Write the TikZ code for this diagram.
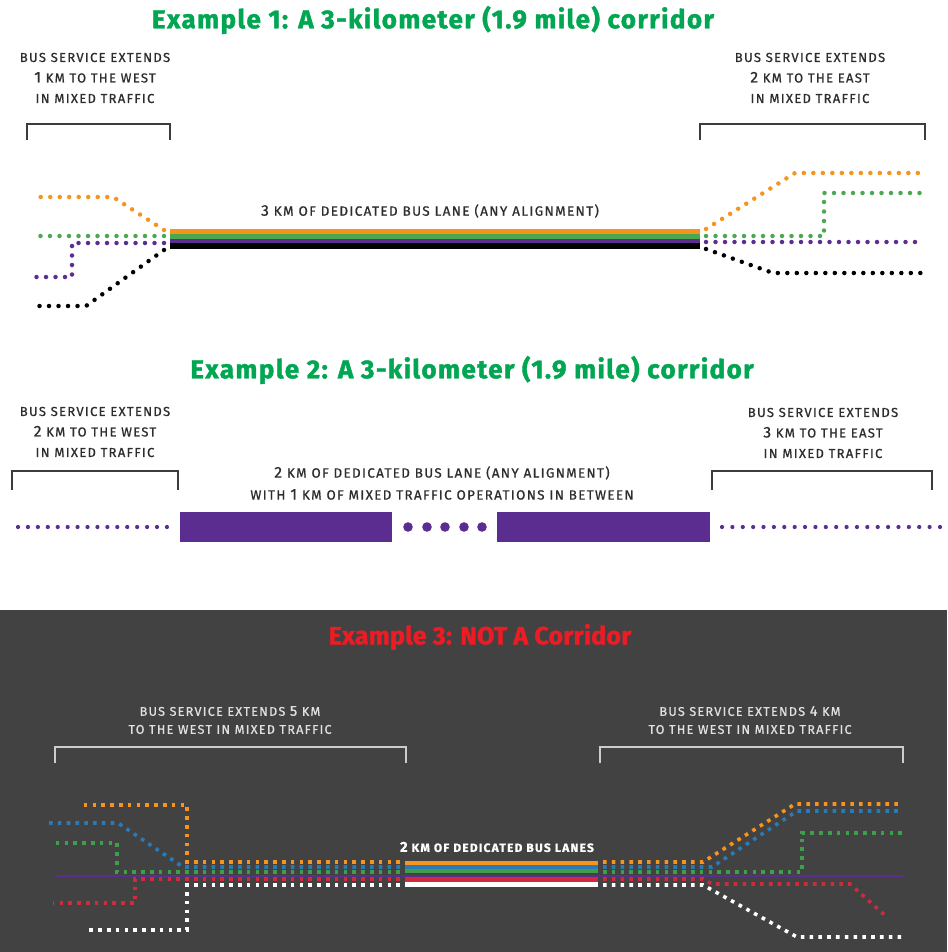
\documentclass[tikz,border=0pt]{standalone}
\usepackage{fontspec}
\setmainfont{Fira Sans}
\newfontfamily\labfont[LetterSpace=10,FakeBold=0.8]{Fira Sans}
\newfontfamily\titfont[LetterSpace=5.5,FakeBold=1.5]{Fira Sans}
\newfontfamily\condtit[FakeBold=1.2,LetterSpace=1]{Fira Sans}
\definecolor{titgreen}{RGB}{0,166,81}
\definecolor{titred}{RGB}{237,28,36}
\definecolor{labgray}{RGB}{45,45,45}
\definecolor{orng}{RGB}{247,148,29}
\definecolor{grn}{RGB}{76,168,80}
\definecolor{prp}{RGB}{92,45,145}
\definecolor{bg}{RGB}{66,66,66}
\definecolor{blu}{RGB}{42,122,184}
\definecolor{grn3}{RGB}{62,158,74}
\definecolor{red3}{RGB}{209,42,58}
\definecolor{brk}{RGB}{60,60,60}
\newcommand\dg[1]{{\fontsize{15.5}{20}\selectfont #1}}
\newcommand\dgs[1]{{\fontsize{14.5}{18}\selectfont #1}}
\tikzset{
  titleA/.style={font=\titfont\bfseries\fontsize{26}{30}\selectfont, text=titgreen, inner sep=0},
  titleB/.style={font=\condtit\bfseries\fontsize{25}{30}\selectfont, text=titred, inner sep=0},
  lab/.style={font=\labfont\fontsize{13}{20.5}\selectfont, text=labgray, align=center, inner sep=0},
  labw/.style={font=\labfont\fontsize{12.6}{18}\selectfont, text=white!88!black, align=center, inner sep=0},
  bracket/.style={draw=brk, line width=1.1pt},
  bracketw/.style={draw=white!80!black, line width=1.3pt},
  dots/.style={line width=4.5pt, line cap=round, dash pattern=on 0pt off 9.5pt},
  sq/.style={line width=3.6pt, dash pattern=on 3.6pt off 5.2pt}
}
\begin{document}
\begin{tikzpicture}[x=1pt,y=-1pt]
\useasboundingbox (0,0) rectangle (947,952);
\fill[white] (0,0) rectangle (947,610);
% ================= Example 1 =================
\node[titleA] (t1) at (433,20) {Example 1: A 3-kilometer (1.9 mile) corridor};
\node[lab] (l1) at (95,78) {BUS SERVICE EXTENDS\\ \dg{1} KM TO THE WEST\\ IN MIXED TRAFFIC};
\node[lab] (r1) at (810,78) {BUS SERVICE EXTENDS\\ \dg{2} KM TO THE EAST\\ IN MIXED TRAFFIC};
\draw[bracket] (27,140) -- (27,124) -- (170,124) -- (170,140);
\draw[bracket] (700,140) -- (700,124) -- (925,124) -- (925,140);
\node[lab, font=\labfont\fontsize{13.5}{20.5}\selectfont] (c1) at (430,211) {\dg{3} KM OF DEDICATED BUS LANE (ANY ALIGNMENT)};
\fill[orng] (170,229) rectangle (700,234);
\fill[grn] (170,234) rectangle (700,238.5);
\fill[prp] (170,238.5) rectangle (700,243);
\fill[black] (170,243) rectangle (700,249);
% left
\draw[dots, orng] (164,230) -- (113,197) -- (33,197);
\draw[dots, grn] (164,236) -- (33,236);
\draw[dots, prp] (164,243) -- (72,243) -- (72,277) -- (35,277);
\draw[dots, black] (164,250) -- (86,306) -- (35,306);
% right
\draw[dots, orng] (706,229) -- (795,173) -- (923,173);
\draw[dots, grn] (706,236) -- (824,236) -- (824,193) -- (923,193);
\draw[dots, prp] (706,242) -- (923,242);
\draw[dots, black] (706,249) -- (773,273) -- (923,273);
% ================= Example 2 =================
\node[titleA] (t2) at (472,370) {Example 2: A 3-kilometer (1.9 mile) corridor};
\node[lab] (l2) at (95,432) {BUS SERVICE EXTENDS\\ \dg{2} KM TO THE WEST\\ IN MIXED TRAFFIC};
\node[lab] (r2) at (823,433) {BUS SERVICE EXTENDS\\ \dg{3} KM TO THE EAST\\ IN MIXED TRAFFIC};
\draw[bracket] (12,490) -- (12,471) -- (178,471) -- (178,490);
\draw[bracket] (712,490) -- (712,471) -- (932,471) -- (932,490);
\node[lab, font=\labfont\fontsize{13.4}{22}\selectfont] (c2) at (442,483) {\dg{2} KM OF DEDICATED BUS LANE (ANY ALIGNMENT)\\ WITH \dg{1} KM OF MIXED TRAFFIC OPERATIONS IN BETWEEN};
\fill[prp] (180,512) rectangle (392,542);
\fill[prp] (497,512) rectangle (710,542);
\foreach \i/\xx in {1/408,2/427,3/445,4/464,5/482}
  \fill[prp] (\xx,527) circle (4.8);
\draw[dots, prp, line width=4.2pt, dash pattern=on 0pt off 9.93pt] (18,527) -- (167,527);
\draw[dots, prp, line width=4.2pt, dash pattern=on 0pt off 10.38pt] (722,527) -- (940,527);
% ================= Example 3 =================
\fill[bg] (0,610) rectangle (947,952);
\node[titleB] (t3) at (480,637) {Example 3: NOT A Corridor};
\node[labw] (l3) at (230,720) {BUS SERVICE EXTENDS \dgs{5} KM\\ TO THE WEST IN MIXED TRAFFIC};
\node[labw] (r3) at (750,720) {BUS SERVICE EXTENDS \dgs{4} KM\\ TO THE WEST IN MIXED TRAFFIC};
\draw[bracketw] (55,763) -- (55,747) -- (406,747) -- (406,763);
\draw[bracketw] (600,763) -- (600,747) -- (903,747) -- (903,763);
\draw[prp, line width=2pt] (55,876) -- (903,876);
\node[labw, font=\labfont\bfseries\fontsize{12}{14}\selectfont, text=white] (c3) at (497,847) {\dgs{2} KM OF DEDICATED BUS LANES};
\fill[orng] (405,860.5) rectangle (598,864.5);
\fill[blu] (405,864.5) rectangle (598,868.5);
\fill[grn3] (405,868.5) rectangle (598,872.5);
\fill[prp] (405,874.5) rectangle (598,877);
\fill[red3] (405,877) rectangle (598,881.5);
\fill[white] (405,881.5) rectangle (598,886.5);
% left
\draw[sq, orng] (400,862) -- (187,862) -- (187,805) -- (80,805);
\draw[sq, blu] (400,867) -- (183,867) -- (118,823) -- (48,823);
\draw[sq, grn3] (400,872) -- (117,872) -- (117,843) -- (55,843);
\draw[sq, red3] (400,879) -- (135,879) -- (135,903) -- (53,903);
\draw[sq, white] (400,885) -- (187,885) -- (187,930) -- (85,930);
% right
\draw[sq, orng] (603,862) -- (703,862) -- (795,804) -- (903,804);
\draw[sq, blu] (603,867) -- (712,867) -- (797,811) -- (903,811);
\draw[sq, grn3] (603,872) -- (802,872) -- (802,833) -- (903,833);
\draw[sq, red3] (603,879) -- (703,879) -- (712,884) -- (850,884) -- (888,918);
\draw[sq, white] (603,885) -- (703,885) -- (797,937) -- (903,937);
\end{tikzpicture}
\end{document}
